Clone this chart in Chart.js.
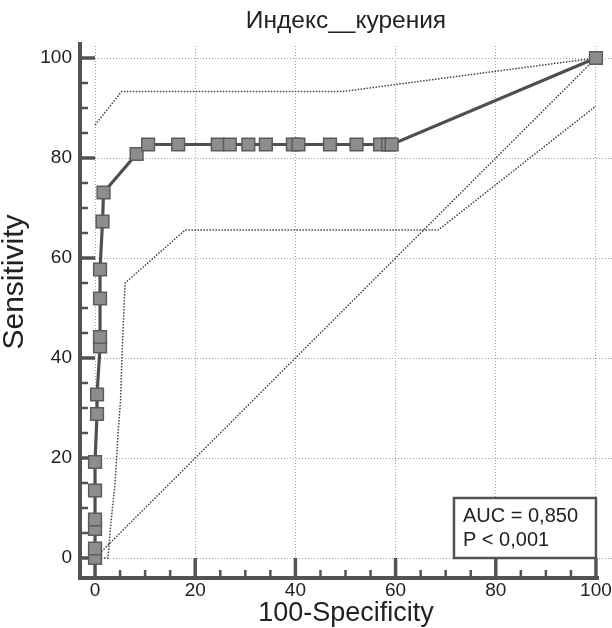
<!DOCTYPE html>
<html>
<head>
<meta charset="utf-8">
<script src="https://cdn.jsdelivr.net/npm/chart.js@4.4.1/dist/chart.umd.min.js"></script>
<style>
  html, body { margin: 0; padding: 0; background: #fff; }
  canvas { display: block; }
</style>
</head>
<body>
<canvas id="rocChart" width="612" height="628"></canvas>
<script>
// ROC curve points (100-Specificity, Sensitivity)
const rocX = [0, 0, 0, 0, 0, 0, 0.4, 0.4, 1, 1, 1, 1, 1.5, 1.7, 8.3, 10.6, 16.6,
  24.5, 26.9, 30.6, 34.1, 39.5, 40.6, 46.9, 52.2, 56.9, 58.5, 59.2, 100];
const rocY = [0, 1.9, 5.8, 7.7, 13.5, 19.2, 28.8, 32.7, 42.3, 44.2, 51.9, 57.7, 67.3, 73.1, 80.8, 82.7, 82.7,
  82.7, 82.7, 82.7, 82.7, 82.7, 82.7, 82.7, 82.7, 82.7, 82.7, 82.7, 100];

// 95% confidence bounds (dotted)
const upperCiX = [0, 5.3, 49.5, 100];
const upperCiY = [86.6, 93.3, 93.3, 100];
const lowerCiX = [0, 2.6, 3.1, 4, 4.6, 5.1, 5.4, 6, 18, 68.5, 100];
const lowerCiY = [0, 0, 6.3, 15, 25, 31.6, 41, 55, 65.6, 65.6, 90.4];

// chance line
const diagX = [0, 100];
const diagY = [0, 100];

const xTicks = [0, 20, 40, 60, 80, 100];
const yTicks = [0, 20, 40, 60, 80, 100];

const chartTitle = "Индекс__курения";
const xTitle = "100-Specificity";
const yTitle = "Sensitivity";
const aucLines = ["AUC = 0,850", "P < 0,001"];

const FONT = "'Liberation Sans', Arial, sans-serif";
const AXIS_COLOR = "#535353";
const TEXT_COLOR = "#222";

function toPoints(xs, ys) {
  return xs.map((x, i) => ({ x: x, y: ys[i] }));
}

// Detached axes with inward ticks, like the original stats package draws them
const axesPlugin = {
  id: "axesPlugin",
  beforeDatasetsDraw(chart) {
    const { ctx, chartArea, scales } = chart;
    const xs = scales.x;
    const ys = scales.y;
    const left = chartArea.left;
    const bottom = chartArea.bottom;
    const x0 = xs.getPixelForValue(0);
    const y0 = ys.getPixelForValue(0);

    ctx.save();
    ctx.strokeStyle = AXIS_COLOR;
    ctx.lineCap = "butt";

    // axis lines
    ctx.lineWidth = 4;
    ctx.beginPath();
    ctx.moveTo(left, chartArea.top - 4);
    ctx.lineTo(left, bottom + 2);
    ctx.moveTo(left - 2, bottom);
    ctx.lineTo(xs.getPixelForValue(100) + 3, bottom);
    ctx.stroke();

    // minor ticks every 5
    ctx.lineWidth = 2.5;
    ctx.beginPath();
    for (let v = 5; v < 100; v += 5) {
      if (v % 20 === 0) continue;
      const px = xs.getPixelForValue(v);
      ctx.moveTo(px, bottom);
      ctx.lineTo(px, bottom - 8);
      const py = ys.getPixelForValue(v);
      ctx.moveTo(left, py);
      ctx.lineTo(left + 8, py);
    }
    ctx.stroke();

    // major ticks reach the zero line
    ctx.lineWidth = 3.5;
    ctx.beginPath();
    xTicks.forEach((v) => {
      const px = xs.getPixelForValue(v);
      ctx.moveTo(px, bottom);
      ctx.lineTo(px, y0);
    });
    yTicks.forEach((v) => {
      const py = ys.getPixelForValue(v);
      ctx.moveTo(left, py);
      ctx.lineTo(x0, py);
    });
    ctx.stroke();

    // x tick labels (drawn here so they add no side padding to the layout)
    ctx.fillStyle = TEXT_COLOR;
    ctx.font = "19px " + FONT;
    ctx.textAlign = "center";
    ctx.textBaseline = "top";
    xTicks.forEach((v) => {
      ctx.fillText(String(v), xs.getPixelForValue(v), bottom + 3);
    });

    // y axis title
    ctx.font = "30px " + FONT;
    ctx.textBaseline = "middle";
    ctx.translate(15, 282);
    ctx.rotate(-Math.PI / 2);
    ctx.fillText(yTitle, 0, 0);
    ctx.restore();
  },
};

// AUC box in the lower right corner
const aucPlugin = {
  id: "aucPlugin",
  afterDatasetsDraw(chart) {
    const { ctx, scales } = chart;
    const right = scales.x.getPixelForValue(100);
    const bottom = scales.y.getPixelForValue(0);
    const w = 142;
    const h = 60;

    ctx.save();
    ctx.fillStyle = "#fff";
    ctx.fillRect(right - w, bottom - h, w, h);
    ctx.strokeStyle = AXIS_COLOR;
    ctx.lineWidth = 2.5;
    ctx.strokeRect(right - w, bottom - h, w, h);

    ctx.fillStyle = TEXT_COLOR;
    ctx.font = "20px " + FONT;
    ctx.textAlign = "left";
    ctx.textBaseline = "middle";
    ctx.fillText(aucLines[0], right - w + 9, bottom - h + 18);
    ctx.fillText(aucLines[1], right - w + 9, bottom - h + 42);
    ctx.restore();
  },
};

const lineStyle = {
  showLine: true,
  borderColor: "#444",
  borderWidth: 1.5,
  borderDash: [1.5, 1.5],
  pointRadius: 0,
  tension: 0,
};

const ctx = document.getElementById("rocChart").getContext("2d");

new Chart(ctx, {
  type: "scatter",
  data: {
    datasets: [
      {
        label: "ROC",
        data: toPoints(rocX, rocY),
        showLine: true,
        borderColor: "#4f4f4f",
        borderWidth: 3.2,
        tension: 0,
        pointStyle: "rect",
        pointRadius: 9,
        pointBackgroundColor: "#8d8d8d",
        pointBorderColor: "#5c5c5c",
        pointBorderWidth: 1.5,
      },
      Object.assign({ label: "Upper", data: toPoints(upperCiX, upperCiY) }, lineStyle),
      Object.assign({ label: "Lower", data: toPoints(lowerCiX, lowerCiY) }, lineStyle),
      Object.assign({ label: "Diagonal", data: toPoints(diagX, diagY) }, lineStyle),
    ],
  },
  options: {
    responsive: false,
    animation: false,
    layout: { padding: 0, autoPadding: false },
    plugins: {
      legend: { display: false },
      tooltip: { enabled: false },
      title: {
        display: true,
        text: chartTitle,
        fullSize: false,
        color: TEXT_COLOR,
        font: { family: FONT, size: 24.5, weight: "normal", lineHeight: 1.2 },
        padding: { top: 7, bottom: 9.6 },
      },
    },
    scales: {
      x: {
        type: "linear",
        min: -3,
        max: 103.2,
        afterBuildTicks: (scale) => {
          scale.ticks = xTicks.map((v) => ({ value: v }));
        },
        afterFit: (scale) => {
          scale.height = 50;
        },
        grid: { color: "#a0a0a0", lineWidth: 1, drawTicks: false },
        border: { display: false, dash: [1, 2] },
        ticks: { display: false },
        title: {
          display: true,
          text: xTitle,
          color: TEXT_COLOR,
          font: { family: FONT, size: 27, lineHeight: 1 },
          padding: { top: 0, bottom: 1 },
        },
      },
      y: {
        type: "linear",
        min: -4,
        max: 102.4,
        afterBuildTicks: (scale) => {
          scale.ticks = yTicks.map((v) => ({ value: v }));
        },
        afterFit: (scale) => {
          scale.width = 80;
        },
        grid: { color: "#a0a0a0", lineWidth: 1, drawTicks: false },
        border: { display: false, dash: [1, 2] },
        ticks: {
          padding: 8,
          color: TEXT_COLOR,
          font: { family: FONT, size: 19 },
        },
      },
    },
  },
  plugins: [axesPlugin, aucPlugin],
});
</script>
</body>
</html>
